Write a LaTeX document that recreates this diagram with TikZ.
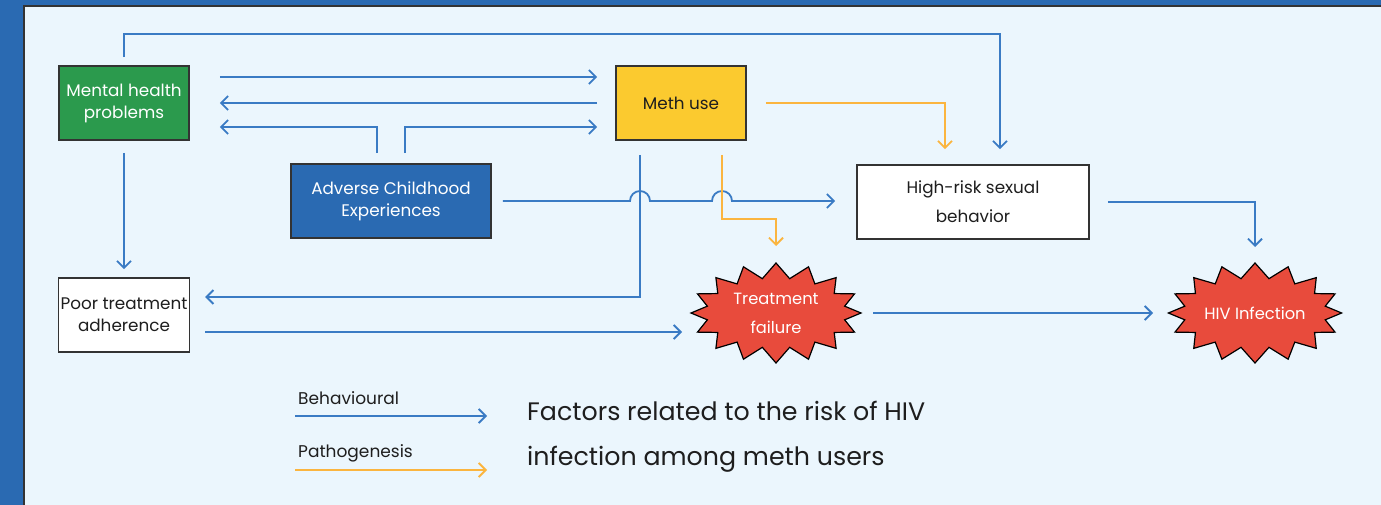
\documentclass[tikz,border=0pt]{standalone}
\usepackage{fontspec}
\setmainfont{Poppins}
\usetikzlibrary{arrows.meta,shapes.symbols,calc}
\definecolor{frameblue}{HTML}{2A6AB2}
\definecolor{panel}{HTML}{EBF6FD}
\definecolor{mgreen}{HTML}{2B9A4D}
\definecolor{myellow}{HTML}{FBCA2F}
\definecolor{mred}{HTML}{E84B3C}
\definecolor{lblue}{HTML}{3A7BC4}
\definecolor{lorange}{HTML}{FBB53F}
\definecolor{edge}{HTML}{333333}
\definecolor{ink}{HTML}{1E1E1E}
\tikzset{
  box/.style={draw=edge, line width=1.6pt, minimum width=130pt, minimum height=74pt, inner sep=2pt, align=center, font=\fontsize{16.8}{22}\selectfont, text=ink},
  burst/.style={starburst, starburst points=16, starburst point height=15pt, random starburst=0, draw=black, line width=1.2pt, fill=mred, minimum width=170pt, minimum height=100pt, inner sep=0pt, align=center, text=white, font=\fontsize{16.3}{29}\selectfont},
  barrow/.style={draw=lblue, line width=1.8pt, -{Straight Barb[length=7pt,width=14pt]}},
  oarrow/.style={draw=lorange, line width=1.8pt, -{Straight Barb[length=7pt,width=14pt]}},
}
\begin{document}
\begin{tikzpicture}[x=1pt,y=-1pt]
\useasboundingbox (0,0) rectangle (1381,505);
\fill[frameblue] (0,0) rectangle (1381,505);
\fill[panel] (24,6) rectangle (1381,505);
\draw[edge, line width=1.5pt] (24,505) -- (24,6) -- (1381,6);

\node[box, fill=mgreen, text=white] (mh) at (124,103) {Mental health\\problems};
\node[box, fill=myellow] (meth) at (681,103) {Meth use};
\node[box, fill=frameblue, text=white, minimum width=200pt] (ace) at (391,201) {Adverse Childhood\\Experiences};
\node[box, fill=white, minimum width=232pt, font=\fontsize{16.8}{29}\selectfont] (hr) at (973,202) {High-risk sexual\\behavior};
\node[box, fill=white] (poor) at (124,315) {Poor treatment\\adherence};
\node[burst] (tf) at (776,313) {Treatment\\failure};
\node[burst] (hiv) at (1255,313) {HIV Infection};

\coordinate (ytop) at (0,34);
\coordinate (v1) at ([xshift=-41,yshift=-14]meth.south);
\coordinate (v2) at ([xshift=41,yshift=-14]meth.south);
\coordinate (aceout) at ([xshift=11]ace.east);

% mental -> high-risk (top)
\draw[barrow] ([yshift=8]mh.north) -- (mh.north |- ytop) -| ([xshift=27,yshift=15]hr.north);
% mental <-> meth
\draw[barrow] ([xshift=30,yshift=26]mh.east) -- ([xshift=-18,yshift=26]meth.west);
\draw[barrow] ([xshift=-18]meth.west) -- ([xshift=30]mh.east);
% ACE -> mental, ACE -> meth
\draw[barrow] ([xshift=-14,yshift=10]ace.north) |- ([xshift=30,yshift=-24]mh.east);
\draw[barrow] ([xshift=14,yshift=10]ace.north) |- ([xshift=-18,yshift=-24]meth.west);
% mental -> poor
\draw[barrow] ([yshift=-12]mh.south) -- ([yshift=8]poor.north);
% meth -> poor
\draw[barrow] (v1) |- ([xshift=15,yshift=18]poor.east);
% ACE -> high-risk with hops
\draw[barrow] (aceout) -- ([xshift=-10]v1 |- aceout) arc[start angle=180,end angle=360,radius=10]
  -- ([xshift=-10]v2 |- aceout) arc[start angle=180,end angle=360,radius=10]
  -- ([xshift=-21]hr.west |- aceout);
% poor -> treatment failure
\coordinate (p9) at ([xshift=15,yshift=-17]poor.east);
\draw[barrow] (p9) -- ([xshift=-94]tf.center |- p9);
% treatment failure -> HIV
\draw[barrow] ([xshift=97]tf.center) -- ([xshift=-102]hiv.center);
% high-risk -> HIV
\draw[barrow] ([xshift=18]hr.east) -| ([yshift=66]hiv.center);
% orange
\draw[oarrow] ([xshift=19]meth.east) -| ([xshift=-28,yshift=15]hr.north);
\draw[oarrow] (v2) -- ++(0,64) -| ([yshift=67]tf.center);

% legend
\node[anchor=base west, font=\fontsize{17}{18}\selectfont, text=ink, inner sep=0pt] (lb) at (298,404) {Behavioural};
\node[anchor=base west, font=\fontsize{17}{18}\selectfont, text=ink, inner sep=0pt] (lp) at (298,457) {Pathogenesis};
\coordinate (lb1) at (295,416);
\coordinate (lb2) at (487,416);
\coordinate (lp1) at (295,470);
\coordinate (lp2) at (487,470);
\draw[barrow] (lb1) -- (lb2);
\draw[oarrow] (lp1) -- (lp2);
\node[anchor=west, align=left, font=\fontsize{25.3}{45}\selectfont, text=ink, inner sep=0pt] (title) at (527,437) {Factors related to the risk of HIV\\infection among meth users};
\end{tikzpicture}
\end{document}
